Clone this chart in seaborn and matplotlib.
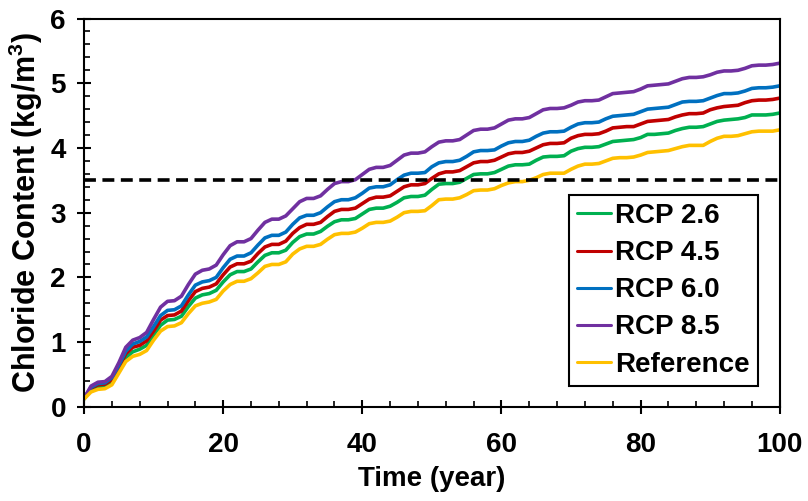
import matplotlib
matplotlib.use("Agg")
import matplotlib.pyplot as plt
from matplotlib.ticker import MultipleLocator
import pandas as pd
import seaborn as sns

# Chloride content at the rebar depth (kg/m3), yearly values over 100 years
years = list(range(0, 101))

rcp26 = [
    0.12, 0.26, 0.31, 0.32, 0.39, 0.56, 0.76, 0.85, 0.89, 0.95,
    1.11, 1.26, 1.34, 1.35, 1.40, 1.55, 1.68, 1.73, 1.75, 1.80,
    1.93, 2.04, 2.09, 2.09, 2.13, 2.24, 2.34, 2.38, 2.38, 2.42,
    2.54, 2.63, 2.67, 2.67, 2.71, 2.79, 2.86, 2.89, 2.89, 2.91,
    2.98, 3.05, 3.07, 3.07, 3.10, 3.16, 3.23, 3.25, 3.25, 3.27,
    3.36, 3.44, 3.45, 3.45, 3.47, 3.53, 3.59, 3.60, 3.60, 3.62,
    3.67, 3.72, 3.74, 3.74, 3.75, 3.81, 3.86, 3.87, 3.87, 3.88,
    3.95, 3.99, 4.01, 4.01, 4.02, 4.06, 4.10, 4.11, 4.12, 4.13,
    4.16, 4.21, 4.21, 4.22, 4.23, 4.27, 4.30, 4.32, 4.32, 4.33,
    4.37, 4.41, 4.43, 4.44, 4.45, 4.47, 4.51, 4.51, 4.51, 4.52,
    4.54,
]

rcp45 = [
    0.13, 0.29, 0.34, 0.35, 0.42, 0.61, 0.82, 0.92, 0.95, 1.02,
    1.17, 1.34, 1.41, 1.42, 1.48, 1.64, 1.78, 1.83, 1.85, 1.90,
    2.04, 2.16, 2.21, 2.21, 2.25, 2.37, 2.47, 2.51, 2.51, 2.56,
    2.68, 2.77, 2.82, 2.82, 2.85, 2.94, 3.02, 3.05, 3.05, 3.07,
    3.14, 3.21, 3.24, 3.24, 3.26, 3.33, 3.40, 3.43, 3.43, 3.45,
    3.53, 3.60, 3.63, 3.63, 3.65, 3.71, 3.77, 3.79, 3.79, 3.81,
    3.86, 3.91, 3.93, 3.93, 3.95, 4.00, 4.05, 4.07, 4.07, 4.08,
    4.15, 4.19, 4.21, 4.21, 4.22, 4.26, 4.31, 4.32, 4.33, 4.33,
    4.37, 4.41, 4.42, 4.43, 4.44, 4.48, 4.51, 4.53, 4.53, 4.54,
    4.59, 4.62, 4.64, 4.65, 4.66, 4.70, 4.73, 4.74, 4.74, 4.75,
    4.77,
]

rcp60 = [
    0.13, 0.30, 0.36, 0.37, 0.45, 0.64, 0.86, 0.97, 1.01, 1.08,
    1.24, 1.41, 1.49, 1.50, 1.56, 1.73, 1.88, 1.93, 1.95, 2.00,
    2.15, 2.28, 2.33, 2.33, 2.38, 2.50, 2.61, 2.65, 2.65, 2.70,
    2.82, 2.92, 2.96, 2.96, 3.00, 3.09, 3.17, 3.20, 3.20, 3.23,
    3.30, 3.38, 3.40, 3.40, 3.43, 3.51, 3.58, 3.61, 3.61, 3.62,
    3.71, 3.77, 3.79, 3.79, 3.81, 3.87, 3.94, 3.96, 3.96, 3.97,
    4.03, 4.08, 4.10, 4.10, 4.12, 4.18, 4.23, 4.25, 4.25, 4.26,
    4.32, 4.37, 4.39, 4.39, 4.40, 4.45, 4.49, 4.50, 4.51, 4.52,
    4.56, 4.60, 4.61, 4.62, 4.63, 4.67, 4.71, 4.72, 4.72, 4.73,
    4.77, 4.81, 4.84, 4.84, 4.85, 4.88, 4.92, 4.93, 4.93, 4.94,
    4.96,
]

rcp85 = [
    0.13, 0.32, 0.38, 0.39, 0.47, 0.68, 0.92, 1.03, 1.07, 1.15,
    1.35, 1.54, 1.63, 1.64, 1.71, 1.89, 2.05, 2.11, 2.13, 2.19,
    2.35, 2.49, 2.55, 2.55, 2.60, 2.73, 2.85, 2.90, 2.90, 2.95,
    3.06, 3.17, 3.22, 3.22, 3.26, 3.36, 3.45, 3.48, 3.48, 3.51,
    3.59, 3.67, 3.70, 3.70, 3.73, 3.81, 3.89, 3.92, 3.92, 3.94,
    4.02, 4.09, 4.11, 4.11, 4.13, 4.20, 4.27, 4.29, 4.29, 4.31,
    4.37, 4.43, 4.45, 4.45, 4.47, 4.53, 4.59, 4.61, 4.61, 4.62,
    4.66, 4.71, 4.73, 4.73, 4.74, 4.79, 4.84, 4.85, 4.86, 4.87,
    4.91, 4.96, 4.97, 4.98, 4.99, 5.03, 5.07, 5.09, 5.09, 5.10,
    5.13, 5.17, 5.19, 5.19, 5.20, 5.23, 5.27, 5.28, 5.28, 5.29,
    5.31,
]

reference = [
    0.12, 0.23, 0.27, 0.28, 0.34, 0.52, 0.70, 0.78, 0.81, 0.87,
    1.03, 1.17, 1.24, 1.25, 1.30, 1.44, 1.56, 1.60, 1.62, 1.66,
    1.79, 1.89, 1.94, 1.94, 1.98, 2.07, 2.17, 2.20, 2.20, 2.24,
    2.36, 2.44, 2.48, 2.48, 2.51, 2.59, 2.66, 2.68, 2.68, 2.70,
    2.76, 2.83, 2.85, 2.85, 2.87, 2.93, 3.00, 3.02, 3.02, 3.03,
    3.11, 3.20, 3.21, 3.21, 3.23, 3.28, 3.34, 3.35, 3.35, 3.37,
    3.42, 3.46, 3.48, 3.48, 3.50, 3.54, 3.59, 3.61, 3.61, 3.61,
    3.67, 3.72, 3.75, 3.75, 3.76, 3.80, 3.84, 3.85, 3.85, 3.86,
    3.89, 3.93, 3.94, 3.95, 3.96, 3.99, 4.02, 4.04, 4.04, 4.04,
    4.10, 4.15, 4.18, 4.18, 4.19, 4.22, 4.25, 4.26, 4.26, 4.26,
    4.28,
]

threshold = 3.5

labels = ["RCP 2.6", "RCP 4.5", "RCP 6.0", "RCP 8.5", "Reference"]
colors = ["#00B050", "#C00000", "#0070C0", "#7030A0", "#FFC000"]
series = [rcp26, rcp45, rcp60, rcp85, reference]

df = pd.concat(
    [pd.DataFrame({"Time": years, "Chloride": vals, "Scenario": name})
     for name, vals in zip(labels, series)],
    ignore_index=True,
)

sns.set_theme(style="white")
plt.rcParams["font.family"] = ["Liberation Sans", "DejaVu Sans"]
plt.rcParams["font.weight"] = "bold"
plt.rcParams["axes.labelweight"] = "bold"
plt.rcParams["axes.labelcolor"] = "black"
plt.rcParams["text.color"] = "black"
plt.rcParams["mathtext.fontset"] = "custom"
plt.rcParams["mathtext.rm"] = "Liberation Sans:bold"
plt.rcParams["mathtext.bf"] = "Liberation Sans:bold"

fig, ax = plt.subplots(figsize=(8.08, 5.01), dpi=100)
fig.subplots_adjust(left=0.104, right=0.965, bottom=0.188, top=0.963)

sns.lineplot(
    data=df, x="Time", y="Chloride", hue="Scenario",
    hue_order=labels, palette=colors, linewidth=2.6,
    estimator=None, ax=ax,
)

ax.axhline(threshold, color="black", linewidth=2.6,
           dashes=(3.3, 1.8), zorder=3)

ax.set_xlim(0, 100)
ax.set_ylim(0, 6)
ax.xaxis.set_major_locator(MultipleLocator(20))
ax.xaxis.set_minor_locator(MultipleLocator(4))
ax.yaxis.set_major_locator(MultipleLocator(1))
ax.yaxis.set_minor_locator(MultipleLocator(0.2))

ax.tick_params(which="major", direction="inout", length=10, width=1.5,
               color="black", labelsize=20, labelcolor="black",
               bottom=True, left=True, top=False, right=False)
ax.tick_params(axis="x", which="major", pad=13)
ax.tick_params(axis="y", which="major", pad=8)
ax.tick_params(which="minor", direction="in", length=4.5, width=1.2,
               color="black", bottom=True, left=True, top=False, right=False)
for lab in ax.get_xticklabels() + ax.get_yticklabels():
    lab.set_fontweight("bold")

for sp in ax.spines.values():
    sp.set_visible(True)
    sp.set_color("black")
    sp.set_linewidth(1.5)

ax.set_xlabel("Time (year)", fontsize=20, fontweight="bold",
              color="black", labelpad=6)
ax.set_ylabel(r"Chloride Content (kg/m$^{\mathbf{3}}$)", fontsize=22,
              fontweight="bold", color="black", labelpad=4)

handles, hl = ax.get_legend_handles_labels()
leg = ax.legend(
    handles, hl, loc="upper left", bbox_to_anchor=(0.697, 0.546),
    frameon=True, fancybox=False, edgecolor="black", framealpha=1,
    prop={"weight": "bold", "size": 20}, handlelength=1.2,
    handletextpad=0.15, labelspacing=0.4, borderpad=0.3,
    borderaxespad=0,
)
leg.get_frame().set_linewidth(1.5)
for h in leg.get_lines():
    h.set_linewidth(2.2)

fig.savefig("out.png", dpi=100)
